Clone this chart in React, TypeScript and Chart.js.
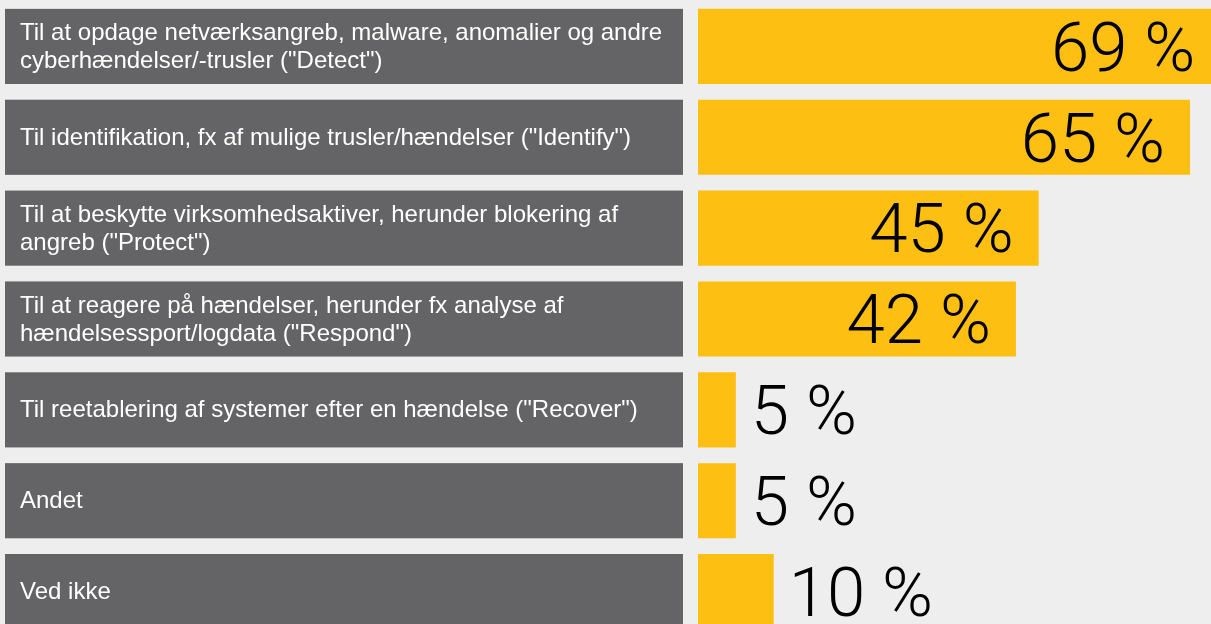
import React, { useEffect, useRef } from "react";
import { Chart, registerables } from "chart.js";

Chart.register(...registerables);

const categories: string[][] = [
  ["Til at opdage netværksangreb, malware, anomalier og andre", "cyberhændelser/-trusler (\"Detect\")"],
  ["Til identifikation, fx af mulige trusler/hændelser (\"Identify\")"],
  ["Til at beskytte virksomhedsaktiver, herunder blokering af", "angreb (\"Protect\")"],
  ["Til at reagere på hændelser, herunder fx analyse af", "hændelsessport/logdata (\"Respond\")"],
  ["Til reetablering af systemer efter en hændelse (\"Recover\")"],
  ["Andet"],
  ["Ved ikke"],
];
const values: number[] = [69, 65, 45, 42, 5, 5, 10];
const valueLabels: string[] = ["69 %", "65 %", "45 %", "42 %", "5 %", "5 %", "10 %"];

const BG = "#edeeed";
const GRAY = "#646466";
const YELLOW = "#fdbf12";

const labelPlugin = {
  id: "labelBoxes",
  beforeDatasetsDraw(chart: any) {
    const ctx = chart.ctx;
    const y = chart.scales.y;
    const meta = chart.getDatasetMeta(0);
    ctx.save();
    categories.forEach((lines, i) => {
      const bar = meta.data[i];
      const h = bar.height;
      const cy = y.getPixelForValue(i);
      ctx.fillStyle = GRAY;
      ctx.fillRect(5, cy - h / 2, 678, h);
      ctx.fillStyle = "#ffffff";
      ctx.font = "24px 'Liberation Sans', Arial, sans-serif";
      ctx.textAlign = "left";
      ctx.textBaseline = "middle";
      const lh = 28;
      const start = cy - ((lines.length - 1) * lh) / 2 + 1;
      lines.forEach((l, j) => ctx.fillText(l, 20, start + j * lh));
    });
    ctx.restore();
  },
  afterDatasetsDraw(chart: any) {
    const ctx = chart.ctx;
    const meta = chart.getDatasetMeta(0);
    ctx.save();
    ctx.fillStyle = "#000000";
    ctx.font = "300 69px Roboto, 'Liberation Sans', sans-serif";
    ctx.textBaseline = "middle";
    meta.data.forEach((bar: any, i: number) => {
      const v = values[i];
      if (v >= 20) {
        ctx.textAlign = "right";
        ctx.fillText(valueLabels[i], bar.x - 25, bar.y + 7);
      } else {
        ctx.textAlign = "left";
        ctx.fillText(valueLabels[i], bar.x + 15, bar.y + 7);
      }
    });
    ctx.restore();
  },
};

export default function App() {
  const ref = useRef<HTMLCanvasElement | null>(null);
  useEffect(() => {
    document.body.style.margin = "0";
    document.body.style.background = BG;
    const chart = new Chart(ref.current as HTMLCanvasElement, {
      type: "bar",
      data: {
        labels: categories.map((c) => c.join(" ")),
        datasets: [
          {
            data: values,
            backgroundColor: YELLOW,
            borderWidth: 0,
            barPercentage: 0.827,
            categoryPercentage: 1,
          },
        ],
      },
      options: {
        indexAxis: "y",
        animation: false,
        responsive: false,
        maintainAspectRatio: false,
        layout: { padding: { left: 698, right: 0, top: 1, bottom: 0 } },
        plugins: { legend: { display: false }, tooltip: { enabled: false } },
        scales: {
          x: { display: false, min: 0, max: 67.77, grid: { display: false } },
          y: { display: false, grid: { display: false } },
        },
      },
      plugins: [labelPlugin],
    });
    return () => chart.destroy();
  }, []);
  return (
    <div style={{ position: "fixed", left: 0, top: 0, width: 1211, height: 624, overflow: "hidden", background: BG }}>
      <canvas ref={ref} width={1211} height={637} style={{ display: "block", width: 1211, height: 637 }} />
    </div>
  );
}
